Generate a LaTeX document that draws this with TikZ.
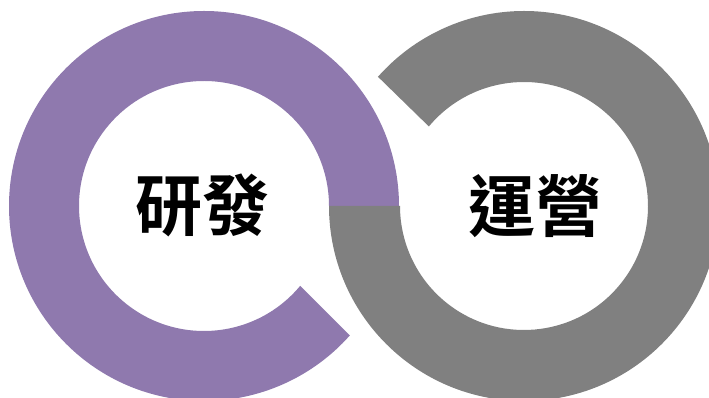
\documentclass[tikz,border=0pt]{standalone}
\usepackage{fontspec}
\usetikzlibrary{calc}
\newfontfamily\cjkfont[BoldFont={Noto Sans CJK TC Bold}]{Noto Sans CJK TC}
\definecolor{ringpurple}{RGB}{143,121,174}
\definecolor{ringgray}{RGB}{128,128,128}
\begin{document}
\begin{tikzpicture}[x=1pt,y=1pt,
  ringlabel/.style={font=\cjkfont\bfseries\fontsize{67}{67}\selectfont, text=black, inner sep=0pt}]
\useasboundingbox (0,0) rectangle (709,398);
\clip (0,0) rectangle (709,398);
% purple ring (left), centre (204,192)
\fill[ringpurple] (204,192) ++(0:125) -- ++(70,0) arc[start angle=0, end angle=318.4, radius=195]
  -- ($(204,192)+(320.3:125)$) arc[start angle=320.3, end angle=0, radius=125] -- cycle;
% gray ring (right), centre (524,192)
\fill[ringgray] (524,192) ++(180:124) -- ++(-71,0) arc[start angle=180, end angle=498.5, radius=195]
  -- ($(524,192)+(500.1:124)$) arc[start angle=500.1, end angle=180, radius=124] -- cycle;
\node[ringlabel] (rd) at (202,193) {研發};
\node[ringlabel] (ops) at (535,192) {運營};
\end{tikzpicture}
\end{document}
